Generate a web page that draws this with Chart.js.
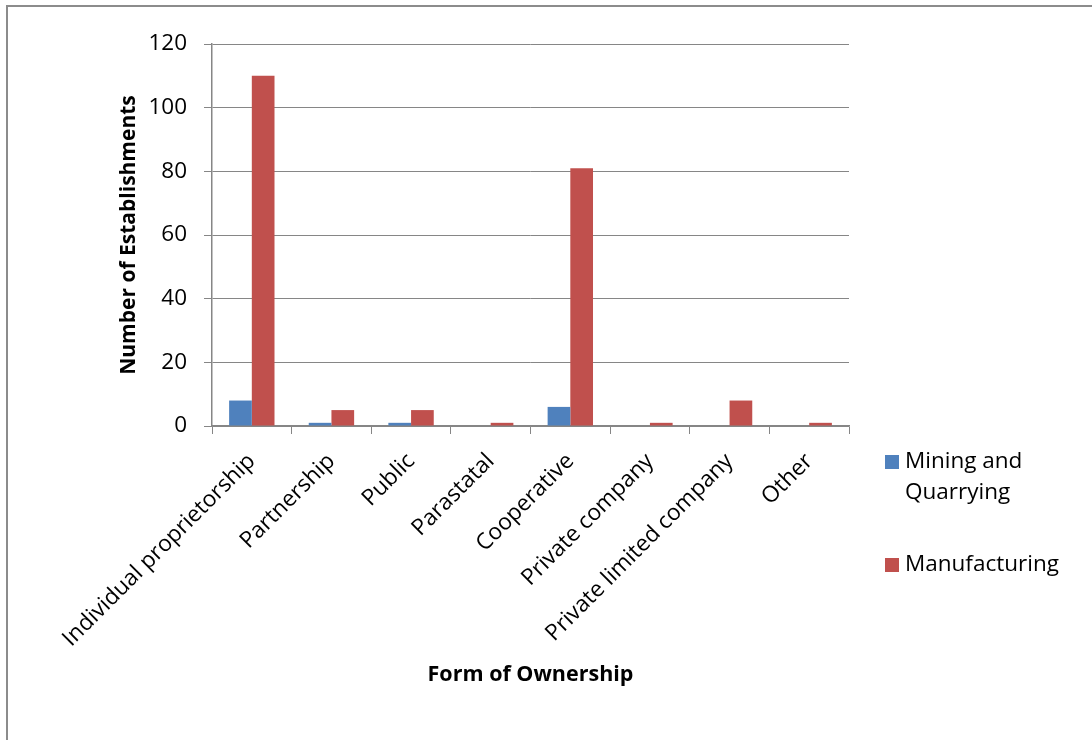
<!DOCTYPE html>
<html>
<head>
<meta charset="utf-8">
<script src="https://cdn.jsdelivr.net/npm/chart.js@4"></script>
<style>
    html, body { margin: 0; padding: 0; background: #fff; overflow: hidden; }
    #frame { position: absolute; left: 6px; top: 5px; width: 1200px; height: 800px;
             border-left: 2px solid #8c8c8c; border-top: 2px solid #8c8c8c; }
    #covidBars { position: absolute; left: 0; top: 0; }
</style>
</head>
<body>
<div id="frame"></div>
<canvas id="covidBars" width="1092" height="740"></canvas>
<script>
    // Data
    var ownership = ["Individual proprietorship", "Partnership", "Public", "Parastatal",
        "Cooperative", "Private company", "Private limited company", "Other"];
    var mining = [8, 1, 1, 0, 6, 0, 0, 0];
    var manufacturing = [110, 5, 5, 1, 81, 1, 8, 1];
    var yTicks = [0, 20, 40, 60, 80, 100, 120];

    var font = "'Open Sans', sans-serif";
    var gray = '#868686';

    // Legend on the right, drawn by hand so the long label can wrap
    var sideLegend = {
        id: 'sideLegend',
        afterDraw: function (chart) {
            var ctx = chart.ctx;
            var x = 885;
            var tops = [455, 558];
            ctx.save();
            ctx.font = "22.5px " + font;
            ctx.textBaseline = 'middle';
            chart.data.datasets.forEach(function (ds, i) {
                ctx.fillStyle = ds.backgroundColor;
                ctx.fillRect(x, tops[i], 14, 14);
                ctx.fillStyle = '#000';
                // wrap words to ~145px
                var words = ds.label.split(' ');
                var lines = [];
                var cur = '';
                words.forEach(function (w) {
                    var test = cur ? cur + ' ' + w : w;
                    if (cur && ctx.measureText(test).width > 145) {
                        lines.push(cur);
                        cur = w;
                    } else {
                        cur = test;
                    }
                });
                lines.push(cur);
                lines.forEach(function (line, j) {
                    ctx.fillText(line, x + 20, tops[i] + 7 + j * 31);
                });
            });
            ctx.restore();
        }
    };

    var ctx = document.getElementById("covidBars").getContext("2d");
    var chart = new Chart(ctx, {
        type: "bar",
        data: {
            labels: ownership,
            datasets: [
                {
                    label: "Mining and Quarrying",
                    data: mining,
                    backgroundColor: '#4F81BD',
                },
                {
                    label: "Manufacturing",
                    data: manufacturing,
                    backgroundColor: '#C0504D',
                },
            ],
        },
        options: {
            responsive: false,
            animation: false,
            categoryPercentage: 0.57,
            barPercentage: 1,
            layout: {
                padding: { left: 116, top: 44, right: 243, bottom: 52 }
            },
            plugins: {
                legend: { display: false },
                tooltip: { enabled: false }
            },
            scales: {
                x: {
                    grid: {
                        offset: true,
                        drawOnChartArea: false,
                        drawTicks: true,
                        tickLength: 8,
                        color: gray
                    },
                    border: { color: gray, width: 1.5 },
                    ticks: {
                        minRotation: 45,
                        maxRotation: 45,
                        padding: 14,
                        color: '#000',
                        font: { family: font, size: 22.6 }
                    },
                    title: {
                        display: true,
                        text: "Form of Ownership",
                        color: '#000',
                        padding: 0,
                        font: { family: font, size: 21.5, weight: 'bold' }
                    },
                    afterFit: function (scale) { scale.height = 262; }
                },
                y: {
                    min: 0,
                    max: 120,
                    afterBuildTicks: function (scale) {
                        scale.ticks = yTicks.map(function (v) { return { value: v }; });
                    },
                    grid: {
                        color: gray,
                        lineWidth: 1,
                        tickLength: 8
                    },
                    border: { color: gray, width: 1.5 },
                    ticks: {
                        padding: 17,
                        color: '#000',
                        font: { family: font, size: 22.5 }
                    },
                    title: {
                        display: true,
                        text: "Number of Establishments",
                        color: '#000',
                        padding: 0,
                        font: { family: font, size: 21, weight: 'bold' }
                    },
                    afterFit: function (scale) { scale.width = 96; }
                }
            }
        },
        plugins: [sideLegend]
    });
</script>
</body>
</html>
